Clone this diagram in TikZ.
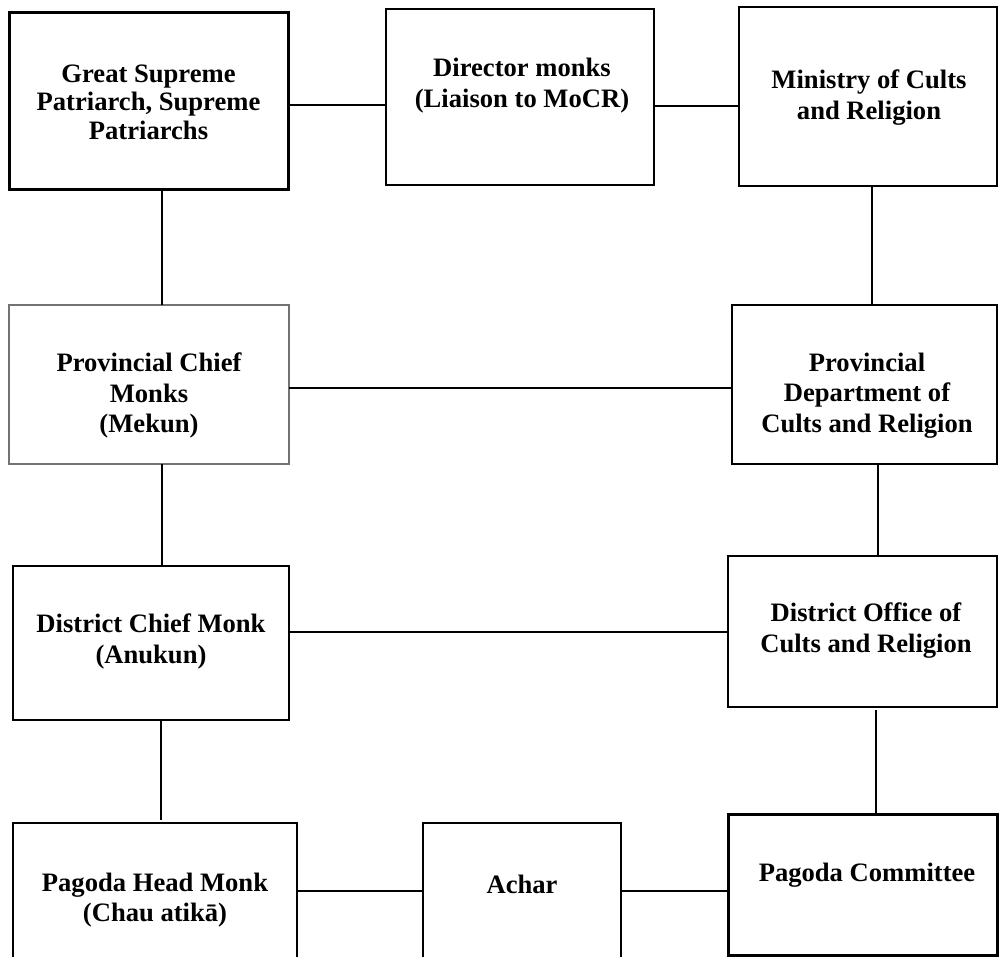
\documentclass[tikz,border=0pt]{standalone}
\usepackage{fontspec}
\setmainfont{Liberation Serif}
\begin{document}
\begin{tikzpicture}[x=1pt,y=-1pt,
  box/.style={draw, line width=2pt, inner sep=0pt, outer sep=0pt, rectangle},
  thickbox/.style={box, line width=3pt},
  greybox/.style={box, draw=black!55, line width=1.5pt},
  lbl/.style={font=\bfseries\fontsize{26.6}{30.5}\selectfont, align=center, inner sep=0pt},
  lbltight/.style={lbl, font=\bfseries\fontsize{26.6}{28.5}\selectfont},
  link/.style={line width=2pt}]
\fill[white] (0,0) rectangle (1000,957);
\useasboundingbox (0,0) rectangle (1000,957);
\begin{scope}
\clip (0,0) rectangle (1000,957);
% boxes
\node[thickbox, minimum width=279pt, minimum height=177pt] (b1) at (148.5,101.5) {};
\node[box, minimum width=268pt, minimum height=176pt] (b2) at (520,97) {};
\node[box, minimum width=258pt, minimum height=179pt] (b3) at (868,96.5) {};
\node[greybox, minimum width=280pt, minimum height=159pt] (b4) at (149,384.5) {};
\node[box, minimum width=265pt, minimum height=159pt] (b5) at (864.5,384.5) {};
\node[box, minimum width=276pt, minimum height=154pt] (b6) at (151,643) {};
\node[box, minimum width=269pt, minimum height=151pt] (b7) at (862.5,631.5) {};
\node[box, minimum width=284pt, minimum height=167pt] (b8) at (155,906.5) {};
\node[box, minimum width=198pt, minimum height=167pt] (b9) at (522,906.5) {};
\node[thickbox, minimum width=269pt, minimum height=141pt] (b10) at (862.5,884.5) {};
% texts
\node[lbltight] (t1) at (148.5,102) {Great Supreme\\Patriarch, Supreme\\Patriarchs};
\node[lbl] (t2) at (522,85.5) {Director monks\\(Liaison to MoCR)};
\node[lbl] (t3) at (869,97.5) {Ministry of Cults\\and Religion};
\node[lbl] (t4) at (149,395.5) {Provincial Chief\\Monks\\(Mekun)};
\node[lbl] (t5) at (867,395.5) {Provincial\\Department of\\Cults and Religion};
\node[lbl] (t6) at (151,641.5) {District Chief Monk\\(Anukun)};
\node[lbl] (t7) at (866,630.5) {District Office of\\Cults and Religion};
\node[lbl] (t8) at (155,900) {Pagoda Head Monk\\(Chau atikā)};
\node[lbl] (t9) at (522,884.5) {Achar};
\node[lbl] (t10) at (867,875.5) {Pagoda Committee};
% connectors
\draw[link] (b1.east |- 0,105) -- (b2.west |- 0,105);
\draw[link] (b2.east |- 0,106) -- (b3.west |- 0,106);
\draw[link] (b1.south -| 162,0) -- (b4.north -| 162,0);
\draw[link] (b3.south -| 872,0) -- (b5.north -| 872,0);
\draw[link] (b4.east |- 0,388) -- (b5.west |- 0,388);
\draw[link] (b4.south -| 162,0) -- (b6.north -| 162,0);
\draw[link] (b5.south -| 878,0) -- (b7.north -| 878,0);
\draw[link] (b6.east |- 0,632) -- (b7.west |- 0,632);
\draw[link, shorten >=3pt] (b6.south -| 161,0) -- (b8.north -| 161,0);
\draw[link, shorten <=3pt] (b7.south -| 876,0) -- (b10.north -| 876,0);
\draw[link] (b8.east |- 0,891) -- (b9.west |- 0,891);
\draw[link] (b9.east |- 0,891) -- (b10.west |- 0,891);
\end{scope}
\end{tikzpicture}
\end{document}
